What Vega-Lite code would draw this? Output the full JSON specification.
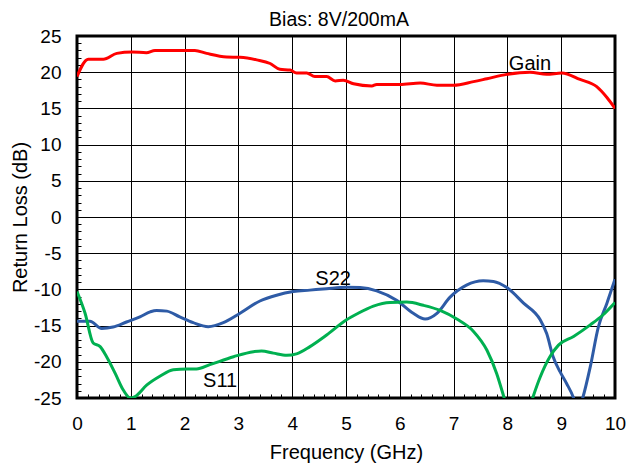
{
  "$schema": "https://vega.github.io/schema/vega-lite/v6.json",
  "width": 538,
  "height": 362,
  "autosize": "none",
  "padding": {"left": 77, "top": 36, "right": 13, "bottom": 68},
  "background": "white",
  "config": {"view": {"stroke": "black", "strokeWidth": 3}, "font": "Liberation Sans"},
  "title": {"text": "Bias: 8V/200mA", "fontSize": 19.5, "fontWeight": "normal", "font": "Liberation Sans", "color": "black", "offset": -3, "dx": -7},
  "encoding": {
    "x": {"field": "f", "type": "quantitative",
      "scale": {"domain": [0, 10], "nice": false, "zero": false},
      "axis": {
        "values": [0,0.2,0.4,0.6,0.8,1,1.2,1.4,1.6,1.8,2,2.2,2.4,2.6,2.8,3,3.2,3.4,3.6,3.8,4,4.2,4.4,4.6,4.8,5,5.2,5.4,5.6,5.8,6,6.2,6.4,6.6,6.8,7,7.2,7.4,7.6,7.8,8,8.2,8.4,8.6,8.8,9,9.2,9.4,9.6,9.8,10],
        "title": "Frequency (GHz)", "titleFontSize": 20, "titleFontWeight": "normal", "titleColor": "black", "titlePadding": 9, "titleFont": "Liberation Sans",
        "labelFontSize": 19, "labelColor": "black", "labelFont": "Liberation Sans", "labelPadding": 20, "labelOverlap": false, "labelFlush": false,
        "labelExpr": "abs(datum.value - round(datum.value)) < 0.01 ? toString(round(datum.value)) : ''",
        "tickSize": -4, "tickColor": "black", "tickWidth": 1,
        "domain": false,
        "grid": true, "gridColor": "black", "gridWidth": 1,
        "gridOpacity": {"condition": {"test": "abs(datum.value - round(datum.value)) < 0.01", "value": 1}, "value": 0}
      }
    },
    "y": {"field": "v", "type": "quantitative",
      "scale": {"domain": [-25, 25], "nice": false, "zero": false},
      "axis": {
        "values": [-25,-24,-23,-22,-21,-20,-19,-18,-17,-16,-15,-14,-13,-12,-11,-10,-9,-8,-7,-6,-5,-4,-3,-2,-1,0,1,2,3,4,5,6,7,8,9,10,11,12,13,14,15,16,17,18,19,20,21,22,23,24,25],
        "title": "Return Loss (dB)", "titleFontSize": 20, "titleFontWeight": "normal", "titleColor": "black", "titlePadding": 3, "titleFont": "Liberation Sans",
        "labelFontSize": 19, "labelColor": "black", "labelFont": "Liberation Sans", "labelPadding": 20, "labelOverlap": false, "labelFlush": false,
        "labelExpr": "datum.value % 5 === 0 ? toString(datum.value) : ''",
        "tickSize": -4, "tickColor": "black", "tickWidth": 1,
        "domain": false,
        "grid": true, "gridColor": "black", "gridWidth": 1,
        "gridOpacity": {"condition": {"test": "datum.value % 5 === 0", "value": 1}, "value": 0}
      }
    }
  },
  "layer": [
    {
      "data": {"values": [
        {"series":"Gain","f":0,"v":19.4},{"series":"Gain","f":0.21,"v":21.8},{"series":"Gain","f":0.49,"v":21.8},{"series":"Gain","f":0.74,"v":22.6},{"series":"Gain","f":1.02,"v":22.8},{"series":"Gain","f":1.29,"v":22.7},{"series":"Gain","f":1.45,"v":23.0},{"series":"Gain","f":1.73,"v":23.0},{"series":"Gain","f":2.19,"v":23.0},{"series":"Gain","f":2.41,"v":22.6},{"series":"Gain","f":2.78,"v":22.1},{"series":"Gain","f":3.03,"v":22.05},{"series":"Gain","f":3.34,"v":21.7},{"series":"Gain","f":3.59,"v":21.2},{"series":"Gain","f":3.77,"v":20.4},{"series":"Gain","f":3.96,"v":20.3},{"series":"Gain","f":4.08,"v":19.9},{"series":"Gain","f":4.27,"v":19.9},{"series":"Gain","f":4.42,"v":19.4},{"series":"Gain","f":4.64,"v":19.4},{"series":"Gain","f":4.8,"v":18.8},{"series":"Gain","f":4.95,"v":18.9},{"series":"Gain","f":5.14,"v":18.4},{"series":"Gain","f":5.48,"v":18.1},{"series":"Gain","f":5.57,"v":18.3},{"series":"Gain","f":6.0,"v":18.3},{"series":"Gain","f":6.38,"v":18.5},{"series":"Gain","f":6.69,"v":18.2},{"series":"Gain","f":7.0,"v":18.2},{"series":"Gain","f":7.37,"v":18.7},{"series":"Gain","f":7.62,"v":19.1},{"series":"Gain","f":7.99,"v":19.7},{"series":"Gain","f":8.42,"v":20.0},{"series":"Gain","f":8.73,"v":19.7},{"series":"Gain","f":9.01,"v":19.9},{"series":"Gain","f":9.35,"v":19.0},{"series":"Gain","f":9.66,"v":18.0},{"series":"Gain","f":9.85,"v":16.5},{"series":"Gain","f":10,"v":15.0},
        {"series":"S22","f":0,"v":-14.4},{"series":"S22","f":0.24,"v":-14.4},{"series":"S22","f":0.46,"v":-15.4},{"series":"S22","f":0.67,"v":-15.2},{"series":"S22","f":0.92,"v":-14.5},{"series":"S22","f":1.17,"v":-13.8},{"series":"S22","f":1.36,"v":-13.1},{"series":"S22","f":1.48,"v":-12.9},{"series":"S22","f":1.67,"v":-13.0},{"series":"S22","f":1.91,"v":-13.8},{"series":"S22","f":2.16,"v":-14.6},{"series":"S22","f":2.44,"v":-15.15},{"series":"S22","f":2.72,"v":-14.6},{"series":"S22","f":3.03,"v":-13.3},{"series":"S22","f":3.4,"v":-11.6},{"series":"S22","f":3.71,"v":-10.8},{"series":"S22","f":4.02,"v":-10.3},{"series":"S22","f":4.33,"v":-10.1},{"series":"S22","f":4.64,"v":-9.9},{"series":"S22","f":5.01,"v":-9.7},{"series":"S22","f":5.26,"v":-9.75},{"series":"S22","f":5.57,"v":-10.2},{"series":"S22","f":5.94,"v":-11.5},{"series":"S22","f":6.25,"v":-13.3},{"series":"S22","f":6.47,"v":-14.1},{"series":"S22","f":6.69,"v":-13.3},{"series":"S22","f":6.93,"v":-11.1},{"series":"S22","f":7.24,"v":-9.4},{"series":"S22","f":7.55,"v":-8.8},{"series":"S22","f":7.74,"v":-8.9},{"series":"S22","f":7.99,"v":-9.75},{"series":"S22","f":8.3,"v":-11.9},{"series":"S22","f":8.61,"v":-14.2},{"series":"S22","f":8.73,"v":-16.1},{"series":"S22","f":8.85,"v":-19.3},{"series":"S22","f":8.98,"v":-21.4},{"series":"S22","f":9.1,"v":-23.0},{"series":"S22","f":9.23,"v":-25.0},{"series":"S22","f":9.31,"v":-27},{"series":"S22","f":9.4,"v":-25},{"series":"S22","f":9.54,"v":-20.7},{"series":"S22","f":9.69,"v":-15.2},{"series":"S22","f":9.85,"v":-11.9},{"series":"S22","f":10,"v":-8.6},
        {"series":"S11","f":0,"v":-10.3},{"series":"S11","f":0.15,"v":-13.3},{"series":"S11","f":0.3,"v":-17.4},{"series":"S11","f":0.43,"v":-17.9},{"series":"S11","f":0.55,"v":-19.3},{"series":"S11","f":0.71,"v":-21.6},{"series":"S11","f":0.86,"v":-23.9},{"series":"S11","f":0.99,"v":-25},{"series":"S11","f":1.08,"v":-24.8},{"series":"S11","f":1.3,"v":-23.2},{"series":"S11","f":1.54,"v":-22.0},{"series":"S11","f":1.79,"v":-21.1},{"series":"S11","f":2.04,"v":-21.0},{"series":"S11","f":2.22,"v":-21.0},{"series":"S11","f":2.47,"v":-20.4},{"series":"S11","f":2.91,"v":-19.3},{"series":"S11","f":3.28,"v":-18.6},{"series":"S11","f":3.43,"v":-18.5},{"series":"S11","f":3.65,"v":-18.8},{"series":"S11","f":3.9,"v":-19.1},{"series":"S11","f":4.08,"v":-18.9},{"series":"S11","f":4.33,"v":-17.9},{"series":"S11","f":4.64,"v":-16.3},{"series":"S11","f":5.01,"v":-14.2},{"series":"S11","f":5.2,"v":-13.4},{"series":"S11","f":5.51,"v":-12.3},{"series":"S11","f":5.82,"v":-11.8},{"series":"S11","f":6.13,"v":-11.75},{"series":"S11","f":6.44,"v":-12.2},{"series":"S11","f":6.75,"v":-12.9},{"series":"S11","f":7.06,"v":-14.1},{"series":"S11","f":7.37,"v":-15.8},{"series":"S11","f":7.62,"v":-18.4},{"series":"S11","f":7.8,"v":-21.6},{"series":"S11","f":7.94,"v":-25},{"series":"S11","f":8.2,"v":-32},{"series":"S11","f":8.47,"v":-25},{"series":"S11","f":8.61,"v":-22.1},{"series":"S11","f":8.79,"v":-19.3},{"series":"S11","f":8.95,"v":-17.7},{"series":"S11","f":9.23,"v":-16.5},{"series":"S11","f":9.54,"v":-14.9},{"series":"S11","f":9.78,"v":-13.5},{"series":"S11","f":10,"v":-11.8}
      ]},
      "mark": {"type": "line", "strokeWidth": 3, "clip": true, "interpolate": "monotone"},
      "encoding": {
        "color": {"field": "series", "type": "nominal",
          "scale": {"domain": ["Gain", "S22", "S11"], "range": ["#FF0000", "#2E5BA6", "#00B050"]},
          "legend": null}
      }
    },
    {
      "data": {"values": [
        {"label": "Gain", "f": 8.42, "v": 21.2},
        {"label": "S22", "f": 4.76, "v": -8.5},
        {"label": "S11", "f": 2.66, "v": -22.6}
      ]},
      "mark": {"type": "text", "fontSize": 20, "font": "Liberation Sans", "color": "black", "baseline": "middle", "align": "center"},
      "encoding": {
        "text": {"field": "label"}
      }
    }
  ]
}
